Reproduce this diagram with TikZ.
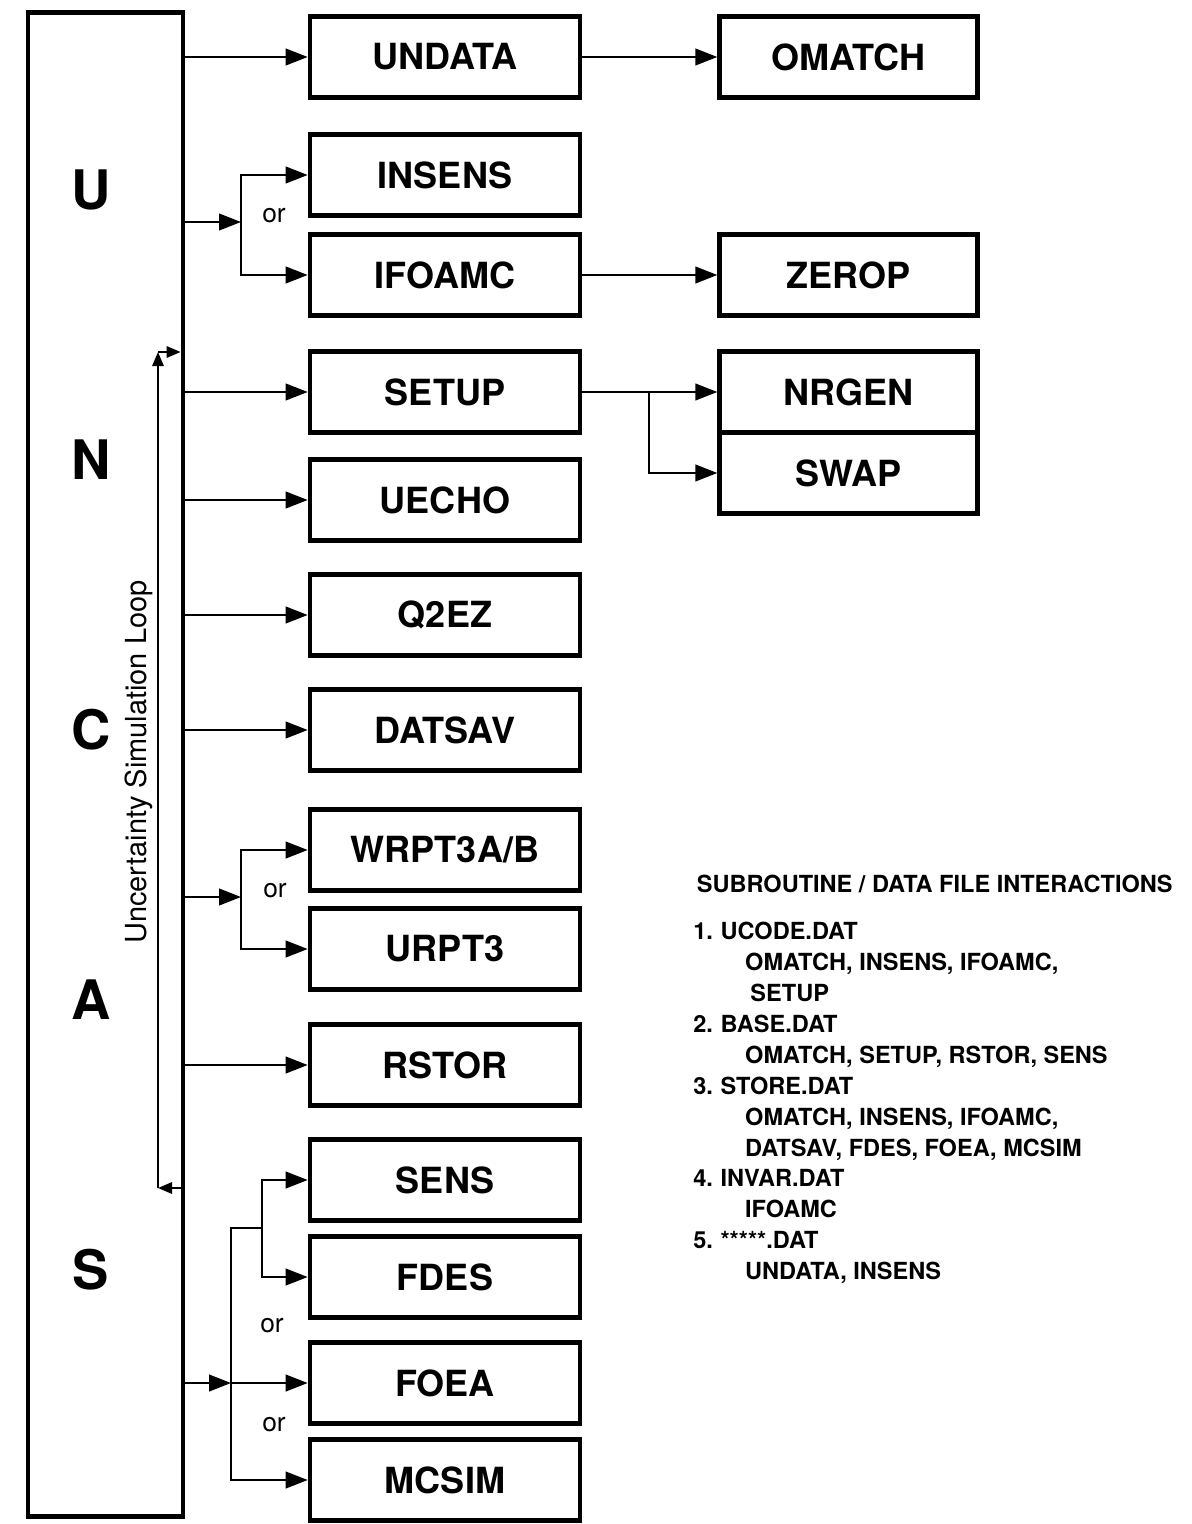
\documentclass[tikz,border=0pt]{standalone}
\usepackage{fontspec}
\setmainfont{TeX Gyre Heros}
\usetikzlibrary{arrows.meta, positioning}

\newcommand{\fileno}[1]{\makebox[15.5pt][l]{#1}}
\newcommand{\fileuse}{\hspace*{29.5pt}}

\begin{document}
\begin{tikzpicture}[
    x=0.02cm, y=-0.02cm,
    node distance=2.7cm,
    box/.style={draw, line width=2.7pt, minimum width=5.4cm, minimum height=1.62cm, inner sep=0pt, font=\fontsize{20.5}{24}\selectfont\bfseries},
    sidebox/.style={box, minimum width=5.16cm},
    mainbox/.style={draw, line width=2.7pt, minimum width=3.1cm, minimum height=30.1cm, inner sep=0pt},
    letter/.style={font=\fontsize{31}{36}\selectfont\bfseries},
    orlabel/.style={font=\fontsize{15}{18}\selectfont},
    link/.style={line width=1.1pt, ->},
    looplink/.style={line width=1.1pt, -{Triangle[length=8pt, width=6.5pt]}},
    legend/.style={align=left, inner sep=0pt, font=\fontsize{13.4}{17.6}\selectfont\bfseries},
    >={Triangle[length=12.5pt, width=9.5pt]}
]
\useasboundingbox (0,0) rectangle (1192,1524);

% main program box
\node[mainbox] (main) at (105.5,764.5) {};
\foreach \ltr [count=\i] in {U,N,C,A,S}
    \node[letter] (letter\i) at (91,{190+270*(\i-1)}) {\ltr};
\node[rotate=90, font=\fontsize{16.5}{20}\selectfont] (looptext) at (139,762) {Uncertainty Simulation Loop};

% subroutines
\node[box] (undata) at (445,57) {UNDATA};
\node[box] (insens) at (445,175) {INSENS};
\node[box] (ifoamc) at (445,275) {IFOAMC};
\node[box] (setup) at (445,392) {SETUP};
\node[box] (uecho) at (445,500) {UECHO};
\node[box] (qtwoez) at (445,615) {Q2EZ};
\node[box] (datsav) at (445,730) {DATSAV};
\node[box] (wrpt) at (445,850) {WRPT3A/B};
\node[box] (urpt) at (445,949) {URPT3};
\node[box] (rstor) at (445,1065) {RSTOR};
\node[box] (sens) at (445,1180) {SENS};
\node[box] (fdes) at (445,1277) {FDES};
\node[box] (foea) at (445,1383) {FOEA};
\node[box] (mcsim) at (445,1480) {MCSIM};

\node[sidebox, right=of undata] (omatch) {OMATCH};
\node[sidebox, right=of ifoamc] (zerop) {ZEROP};
\node[sidebox, right=of setup] (nrgen) {NRGEN};
\node[sidebox, below=-2.7pt of nrgen] (swap) {SWAP};

% direct calls
\draw[link] (main.east |- undata.west) -- (undata.west);
\draw[link] (main.east |- setup.west) -- (setup.west);
\draw[link] (main.east |- uecho.west) -- (uecho.west);
\draw[link] (main.east |- qtwoez.west) -- (qtwoez.west);
\draw[link] (main.east |- datsav.west) -- (datsav.west);
\draw[link] (main.east |- rstor.west) -- (rstor.west);

\draw[link] (undata) -- (omatch);
\draw[link] (ifoamc) -- (zerop);

\coordinate (split) at (649,392);
\draw[link] (setup.east) -- (nrgen.west);
\draw[link] (split) |- (swap.west);

% either / or calls
\coordinate (orA) at (241,222);
\draw[link] (main.east |- orA) -- (orA);
\draw[link] (orA) |- (insens.west);
\draw[link] (orA) |- (ifoamc.west);
\node[orlabel] (orAtext) at (274,216) {or};

\coordinate (orB) at (241,897);
\draw[link] (main.east |- orB) -- (orB);
\draw[link] (orB) |- (wrpt.west);
\draw[link] (orB) |- (urpt.west);
\node[orlabel] (orBtext) at (275,891) {or};

\coordinate (orC) at (231,1383);
\coordinate (orCtop) at (231,1228);
\coordinate (orD) at (262,1228);
\draw[link] (main.east |- orC) -- (orC);
\draw[link] (orC) -- (foea.west);
\draw[link] (orC) |- (mcsim.west);
\draw[line width=1.1pt] (orC) -- (orCtop) -- (orD);
\draw[link] (orD) |- (sens.west);
\draw[link] (orD) |- (fdes.west);
\node[orlabel] (orCtext) at (272,1326) {or};
\node[orlabel] (orDtext) at (274,1425) {or};

% simulation loop
\coordinate (mainin) at ([xshift=-2.7pt]main.east);
\coordinate (ltop) at (158,352);
\coordinate (lbot) at (158,1188);
\draw[looplink] (mainin |- lbot) -- (lbot);
\draw[looplink] (lbot) -- (ltop);
\draw[looplink] (ltop) -- (mainin |- ltop);

% data files
\node[legend, anchor=north west] (interactions) at (693,875) {%
\hspace*{2pt}SUBROUTINE / DATA FILE INTERACTIONS\\[9pt]
\fileno{1.}UCODE.DAT\\
\fileuse OMATCH, INSENS, IFOAMC,\\
\fileuse\hspace*{3pt}SETUP\\
\fileno{2.}BASE.DAT\\
\fileuse OMATCH, SETUP, RSTOR, SENS\\
\fileno{3.}STORE.DAT\\
\fileuse OMATCH, INSENS, IFOAMC,\\
\fileuse DATSAV, FDES, FOEA, MCSIM\\
\fileno{4.}INVAR.DAT\\
\fileuse IFOAMC\\
\fileno{5.}*****.DAT\\
\fileuse UNDATA, INSENS};

\end{tikzpicture}
\end{document}
